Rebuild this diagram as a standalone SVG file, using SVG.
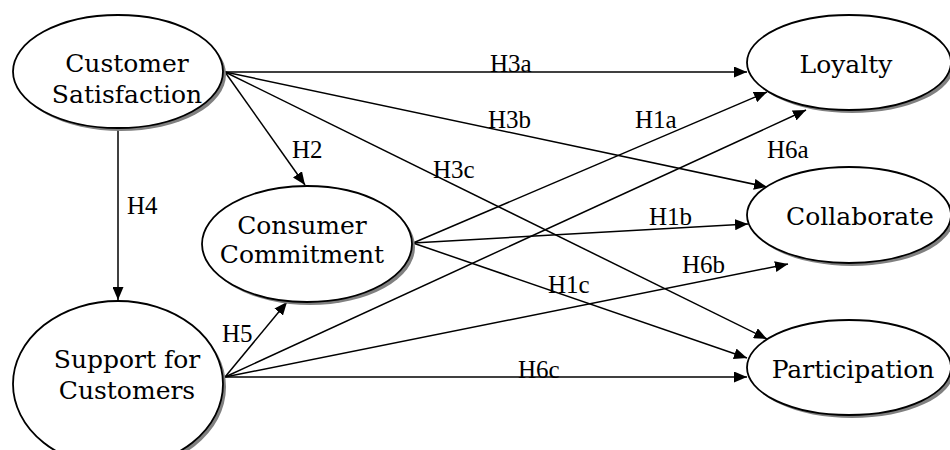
<svg xmlns="http://www.w3.org/2000/svg" width="950" height="450" viewBox="0 0 950 450">
<style>
.node{fill:#fff;stroke:#000;stroke-width:1.8}
.shadow{fill:#808080;stroke:none}
.nt{font-family:"DejaVu Serif",serif;font-size:25px;fill:#000;text-anchor:middle}
.lbl{font-family:"Liberation Serif","Times New Roman",serif;font-size:25px;fill:#000}
.edge{stroke:#000;stroke-width:1.5;fill:none;marker-end:url(#arr)}
</style>
<defs>
<marker id="arr" markerUnits="userSpaceOnUse" markerWidth="13" markerHeight="11" refX="13" refY="5.5" orient="auto">
<path d="M0,0 L13,5.5 L0,11 Z" fill="#000"/>
</marker>
</defs>
<rect width="950" height="450" fill="#fff"/>
<g id="connectors">
<line class="edge" x1="225" y1="72" x2="747" y2="72"/>
<line class="edge" x1="225" y1="72" x2="767" y2="187"/>
<line class="edge" x1="225" y1="72" x2="767" y2="339"/>
<line class="edge" x1="225" y1="72" x2="305" y2="185"/>
<line class="edge" x1="118" y1="128" x2="118" y2="300"/>
<line class="edge" x1="225" y1="377" x2="287" y2="302"/>
<line class="edge" x1="413" y1="243" x2="767" y2="92"/>
<line class="edge" x1="413" y1="243" x2="748" y2="224"/>
<line class="edge" x1="413" y1="243" x2="747" y2="358"/>
<line class="edge" x1="225" y1="377" x2="806" y2="110"/>
<line class="edge" x1="225" y1="377" x2="788" y2="264"/>
<line class="edge" x1="225" y1="377" x2="747" y2="377"/>
<text class="lbl" x="490" y="72">H3a</text>
<text class="lbl" x="488" y="128">H3b</text>
<text class="lbl" x="433" y="178">H3c</text>
<text class="lbl" x="292" y="158">H2</text>
<text class="lbl" x="127" y="214">H4</text>
<text class="lbl" x="222" y="342">H5</text>
<text class="lbl" x="635" y="128">H1a</text>
<text class="lbl" x="767" y="158">H6a</text>
<text class="lbl" x="649" y="225">H1b</text>
<text class="lbl" x="548" y="293">H1c</text>
<text class="lbl" x="682" y="273">H6b</text>
<text class="lbl" x="518" y="378">H6c</text>
</g>
<g id="customer-satisfaction">
<ellipse class="shadow" cx="121" cy="74.5" rx="105" ry="56.5"/>
<ellipse class="node" cx="118" cy="71.5" rx="105" ry="56.5"/>
<text class="nt" x="127" y="72">Customer</text>
<text class="nt" x="127" y="103">Satisfaction</text>
</g>
<g id="consumer-commitment">
<ellipse class="shadow" cx="310" cy="247" rx="105" ry="58"/>
<ellipse class="node" cx="307" cy="244" rx="105" ry="58"/>
<text class="nt" x="302" y="234">Consumer</text>
<text class="nt" x="302" y="263">Commitment</text>
</g>
<g id="support-for-customers">
<ellipse class="shadow" cx="121" cy="387" rx="105" ry="83"/>
<ellipse class="node" cx="118" cy="384" rx="105" ry="83"/>
<text class="nt" x="127" y="368">Support for</text>
<text class="nt" x="127" y="399">Customers</text>
</g>
<g id="loyalty">
<ellipse class="shadow" cx="852" cy="65.5" rx="102" ry="47.5"/>
<ellipse class="node" cx="849" cy="62.5" rx="102" ry="47.5"/>
<text class="nt" x="846" y="73">Loyalty</text>
</g>
<g id="collaborate">
<ellipse class="shadow" cx="852" cy="218" rx="102" ry="48"/>
<ellipse class="node" cx="849" cy="215" rx="102" ry="48"/>
<text class="nt" x="860" y="225">Collaborate</text>
</g>
<g id="participation">
<ellipse class="shadow" cx="852" cy="370.5" rx="102" ry="47.5"/>
<ellipse class="node" cx="849" cy="367.5" rx="102" ry="47.5"/>
<text class="nt" x="853" y="378">Participation</text>
</g>
</svg>
